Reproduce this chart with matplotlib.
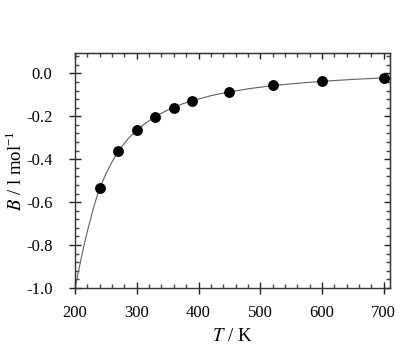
import numpy as np
import matplotlib.pyplot as plt
from matplotlib.ticker import MultipleLocator

plt.rcParams['font.family'] = ['Liberation Serif', 'DejaVu Serif']
plt.rcParams['mathtext.fontset'] = 'stix'

# measured second virial coefficients
T_data = [240, 270, 300, 330, 360, 390, 450, 520, 600, 700]
B_data = [-0.535, -0.362, -0.264, -0.202, -0.159, -0.127, -0.086, -0.056, -0.036, -0.020]

# fitted curve
T_fit = [200, 205, 210, 215, 220, 225, 230, 235, 240, 250, 260, 270, 285, 300, 315, 330,
         345, 360, 375, 390, 420, 450, 485, 520, 560, 600, 650, 700, 710]
B_fit = [-1.00, -0.93, -0.86, -0.795, -0.735, -0.68, -0.625, -0.578, -0.535, -0.468,
         -0.411, -0.363, -0.307, -0.264, -0.230, -0.202, -0.178, -0.158, -0.141, -0.127,
         -0.104, -0.086, -0.070, -0.057, -0.046, -0.037, -0.028, -0.021, -0.020]

fig = plt.figure(figsize=(4.17, 3.48), dpi=100)
ax = fig.add_axes([0.18, 0.1724, 0.755, 0.6753])

ax.plot(T_fit, B_fit, color='#606060', lw=0.8, zorder=2)
ax.plot(T_data, B_data, 'o', color='black', ms=6.8, zorder=3)

ax.set_xlim(200, 710)
ax.set_ylim(-1.0, 0.095)
ax.xaxis.set_major_locator(MultipleLocator(100))
ax.xaxis.set_minor_locator(MultipleLocator(20))
ax.yaxis.set_minor_locator(MultipleLocator(0.04))
ax.set_yticks(np.arange(-1.0, 0.01, 0.2))
ax.set_yticklabels(['-1.0', '-0.8', '-0.6', '-0.4', '-0.2', '0.0'])

for s in ax.spines.values():
    s.set_linewidth(1.0)
    s.set_color('#333333')

ax.tick_params(which='major', direction='inout', length=8.5, width=1.0,
               color='#222222', labelsize=12)
ax.tick_params(axis='x', which='major', pad=8)
ax.tick_params(axis='y', which='major', pad=12)
ax.tick_params(which='minor', direction='in', length=2.6, width=1.0, color='#444444')

# inward ticks on top and right
top = ax.secondary_xaxis('top')
top.xaxis.set_major_locator(MultipleLocator(100))
top.xaxis.set_minor_locator(MultipleLocator(20))
top.tick_params(which='major', direction='in', length=4, width=1.0, labeltop=False, color='#222222')
top.tick_params(which='minor', direction='in', length=2.6, width=1.0, color='#444444')
right = ax.secondary_yaxis('right')
right.yaxis.set_major_locator(MultipleLocator(0.2))
right.yaxis.set_minor_locator(MultipleLocator(0.04))
right.tick_params(which='major', direction='in', length=4, width=1.0, labelright=False, color='#222222')
right.tick_params(which='minor', direction='in', length=2.6, width=1.0, color='#444444')

ax.set_xlabel(r'$T$ / K', fontsize=13.5)
ax.set_ylabel(r'$B$ / l mol$^{\mathregular{-1}}$', fontsize=13.5)
ax.xaxis.set_label_coords(0.5, -0.17)
ax.yaxis.set_label_coords(-0.155, 0.5)

fig.savefig('out.png', dpi=100)
